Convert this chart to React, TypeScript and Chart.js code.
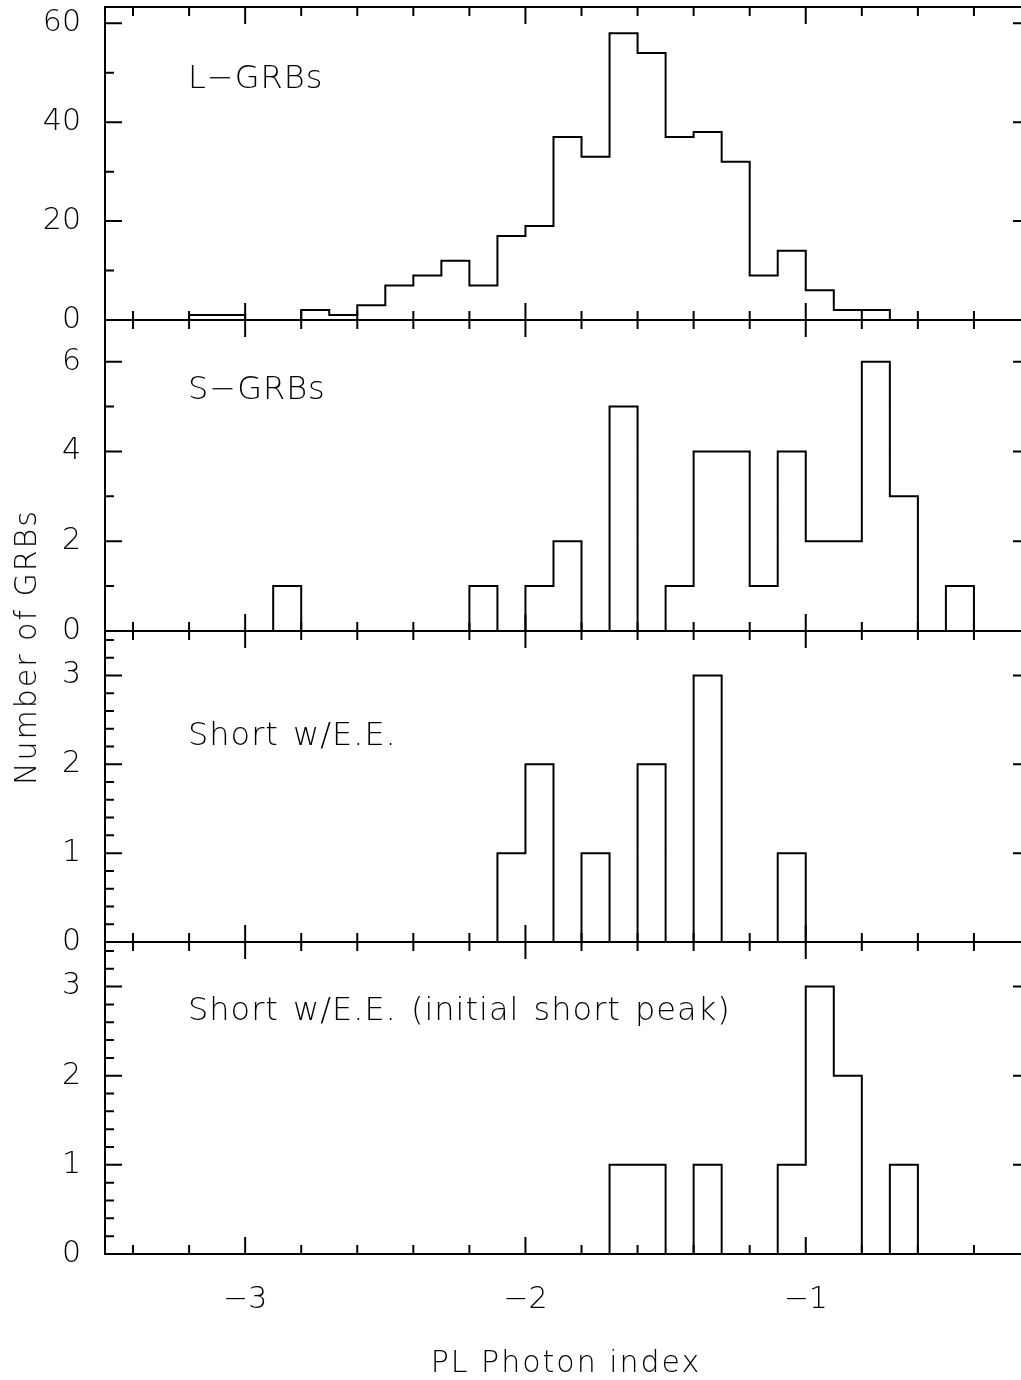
import React, { useEffect, useRef } from 'react';
import { Chart, registerables } from 'chart.js';

Chart.register(...registerables);

// ---- data ----
const BIN_LEFT = [
  -3.5, -3.4, -3.3, -3.2, -3.1, -3.0, -2.9, -2.8, -2.7, -2.6, -2.5,
  -2.4, -2.3, -2.2, -2.1, -2.0, -1.9, -1.8, -1.7, -1.6, -1.5, -1.4,
  -1.3, -1.2, -1.1, -1.0, -0.9, -0.8, -0.7, -0.6, -0.5, -0.4, -0.3,
];
const BIN_WIDTH = 0.1;

const L_GRB = [
  0, 0, 0, 1, 1, 0, 0, 2, 1, 3, 7,
  9, 12, 7, 17, 19, 37, 33, 58, 54, 37, 38,
  32, 9, 14, 6, 2, 2, 0, 0, 0, 0, 0,
];
const S_GRB = [
  0, 0, 0, 0, 0, 0, 1, 0, 0, 0, 0,
  0, 0, 1, 0, 1, 2, 0, 5, 0, 1, 4,
  4, 1, 4, 2, 2, 6, 3, 0, 1, 0, 0,
];
const SHORT_EE = [
  0, 0, 0, 0, 0, 0, 0, 0, 0, 0, 0,
  0, 0, 0, 1, 2, 0, 1, 0, 2, 0, 3,
  0, 0, 1, 0, 0, 0, 0, 0, 0, 0, 0,
];
const SHORT_EE_INITIAL = [
  0, 0, 0, 0, 0, 0, 0, 0, 0, 0, 0,
  0, 0, 0, 0, 0, 0, 0, 1, 1, 0, 1,
  0, 0, 1, 3, 2, 0, 1, 0, 0, 0, 0,
];

const PANEL_LABELS = ['L\u2212GRBs', 'S\u2212GRBs', 'Short w/E.E.', 'Short w/E.E. (initial short peak)'];
const X_TITLE = 'PL Photon index';
const Y_TITLE = 'Number of GRBs';

// ---- layout / style ----
const W = 1040;
const H = 1380;
const PLOT_LEFT = 105;
const PLOT_RIGHT = 1030;
const X_MIN = -3.5;
const X_MAX = -0.2;
const X_MAJOR = 1;
const X_MINOR = 0.2;
const MAJOR_LEN = 17;
const MINOR_LEN = 9;
const INK = '#000';
const FONT_FAMILY = 'DejaVu Sans';

const PANELS = [
  { counts: L_GRB, label: PANEL_LABELS[0], yMax: 63.3, major: 20, minor: 10, top: 7, bottom: 320, labelDy: 81 },
  { counts: S_GRB, label: PANEL_LABELS[1], yMax: 6.93, major: 2, minor: 1, top: 320, bottom: 631, labelDy: 79 },
  { counts: SHORT_EE, label: PANEL_LABELS[2], yMax: 3.5, major: 1, minor: 0.2, top: 631, bottom: 942, labelDy: 114 },
  { counts: SHORT_EE_INITIAL, label: PANEL_LABELS[3], yMax: 3.5, major: 1, minor: 0.2, top: 942, bottom: 1254, labelDy: 78 },
];

const framePlugin = {
  id: 'frame',
  afterDatasetsDraw(chart: any, _args: any, opts: any) {
    const { ctx, chartArea: a, scales } = chart;
    const xs = scales.x;
    const ys = scales.y;
    ctx.save();
    ctx.strokeStyle = INK;
    ctx.lineWidth = 2;
    ctx.strokeRect(a.left, a.top, a.right - a.left, a.bottom - a.top);
    ctx.beginPath();
    const xr = Math.round(X_MAJOR / X_MINOR);
    for (let k = Math.ceil(X_MIN / X_MINOR - 1e-9); k <= Math.floor(X_MAX / X_MINOR + 1e-9); k++) {
      const px = xs.getPixelForValue(k * X_MINOR);
      if (px <= a.left + 1 || px >= a.right - 1) continue;
      const len = k % xr === 0 ? MAJOR_LEN : MINOR_LEN;
      ctx.moveTo(px, a.top);
      ctx.lineTo(px, a.top + len);
      ctx.moveTo(px, a.bottom);
      ctx.lineTo(px, a.bottom - len);
    }
    const yr = Math.round(opts.major / opts.minor);
    for (let k = 1; k <= Math.floor(opts.yMax / opts.minor + 1e-9); k++) {
      const py = ys.getPixelForValue(k * opts.minor);
      if (py <= a.top + 1) continue;
      const len = k % yr === 0 ? MAJOR_LEN : MINOR_LEN;
      ctx.moveTo(a.left, py);
      ctx.lineTo(a.left + len, py);
      ctx.moveTo(a.right, py);
      ctx.lineTo(a.right - len, py);
    }
    ctx.stroke();
    ctx.fillStyle = INK;
    ctx.font = `200 32px "${FONT_FAMILY}"`;
    (ctx as any).letterSpacing = '1px';
    (ctx as any).wordSpacing = '3px';
    ctx.textAlign = 'left';
    ctx.textBaseline = 'alphabetic';
    ctx.fillText(opts.label, a.left + 83, a.top + opts.labelDy);
    ctx.restore();
  },
};

export default function App() {
  const refs = useRef<(HTMLCanvasElement | null)[]>([]);

  useEffect(() => {
    const tickFont = { family: FONT_FAMILY, size: 30, weight: 200 as any };
    const charts = PANELS.map((p, i) => {
      const canvas = refs.current[i] as HTMLCanvasElement;
      const isBottom = i === PANELS.length - 1;
      const data = BIN_LEFT.map((x, k) => ({ x, y: p.counts[k] }));
      data.push({ x: BIN_LEFT[BIN_LEFT.length - 1] + BIN_WIDTH, y: 0 });
      return new Chart(canvas, {
        type: 'line',
        data: {
          datasets: [
            {
              data,
              stepped: 'before',
              borderColor: INK,
              borderWidth: 2,
              pointRadius: 0,
              fill: false,
              tension: 0,
            },
          ],
        },
        options: {
          animation: false,
          responsive: false,
          devicePixelRatio: 1,
          events: [],
          layout: {
            padding: { top: p.top, bottom: isBottom ? 0 : H - p.bottom, left: 0, right: W - PLOT_RIGHT },
          },
          plugins: {
            legend: { display: false },
            tooltip: { enabled: false },
            frame: { label: p.label, yMax: p.yMax, major: p.major, minor: p.minor, labelDy: p.labelDy },
          } as any,
          scales: {
            x: {
              type: 'linear',
              min: X_MIN,
              max: X_MAX,
              display: isBottom,
              grid: { display: false, drawTicks: false },
              border: { display: false },
              ticks: {
                stepSize: X_MAJOR,
                includeBounds: false,
                autoSkip: false,
                maxRotation: 0,
                padding: 28,
                font: tickFont,
                color: INK,
                callback: (v: any) => (Number(v) < 0 ? '\u2212' + Math.abs(Number(v)) : String(v)),
              },
              afterFit: (s: any) => {
                if (isBottom) {
                  s.height = H - p.bottom;
                  s.paddingLeft = 0;
                  s.paddingRight = 0;
                }
              },
            },
            y: {
              type: 'linear',
              min: 0,
              max: p.yMax,
              grid: { display: false, drawTicks: false },
              border: { display: false },
              ticks: {
                stepSize: p.major,
                includeBounds: false,
                padding: 24,
                font: tickFont,
                color: INK,
              },
              afterFit: (s: any) => {
                s.width = PLOT_LEFT;
                s.paddingTop = 0;
                s.paddingBottom = 0;
              },
            },
          },
        } as any,
        plugins: [framePlugin],
      });
    });
    return () => charts.forEach((c) => c.destroy());
  }, []);

  const textStyle: React.CSSProperties = {
    position: 'absolute',
    font: `200 30px "${FONT_FAMILY}"`,
    letterSpacing: '2px',
    whiteSpace: 'nowrap',
    color: INK,
    lineHeight: 1,
  };

  return (
    <div
      style={{
        position: 'absolute',
        left: 0,
        top: 0,
        width: 1021,
        height: 1380,
        overflow: 'hidden',
        background: '#fff',
      }}
    >
      {PANELS.map((_, i) => (
        <canvas
          key={i}
          ref={(el) => {
            refs.current[i] = el;
          }}
          width={W}
          height={H}
          style={{ position: 'absolute', left: 0, top: 0, width: W, height: H }}
        />
      ))}
      <div style={{ ...textStyle, left: 26, top: 647, transform: 'translate(-50%, -50%) rotate(-90deg)' }}>
        {Y_TITLE}
      </div>
      <div style={{ ...textStyle, left: 566, top: 1362, transform: 'translate(-50%, -50%)' }}>{X_TITLE}</div>
    </div>
  );
}
